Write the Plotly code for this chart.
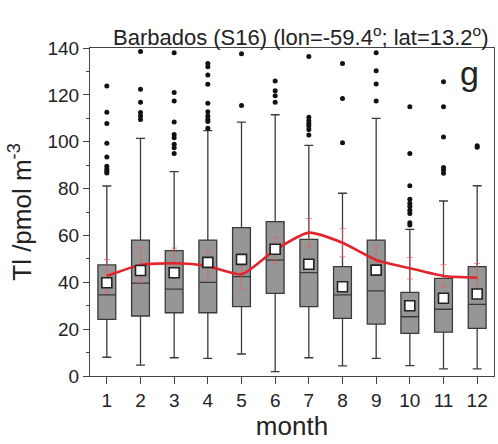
import plotly.graph_objects as go

months = list(range(1, 13))
month_labels = [str(m) for m in months]

q1 = [24.2, 25.6, 27.0, 27.0, 29.6, 35.3, 29.6, 24.6, 22.1, 18.2, 18.7, 20.3]
median = [34.6, 39.6, 37.1, 40.0, 42.4, 49.5, 44.1, 34.6, 36.3, 25.3, 28.5, 30.6]
q3 = [47.4, 58.0, 53.5, 58.0, 63.3, 65.9, 58.3, 46.7, 58.0, 35.7, 41.7, 46.7]
lower_whisker = [8.0, 4.6, 7.8, 7.5, 9.4, 1.9, 7.8, 4.3, 7.5, 4.4, 3.0, 3.0]
upper_whisker = [81.1, 101.4, 87.2, 104.7, 108.4, 111.5, 98.4, 78.0, 110.0, 62.6, 74.7, 81.2]
mean_val = [39.8, 45.0, 44.1, 48.5, 49.8, 54.1, 47.7, 38.1, 45.2, 30.0, 33.2, 35.0]

outliers = {
    1: [123.8, 112.6, 107.8, 99.3, 93.5, 89.5, 88.3, 87.4, 86.6],
    2: [138.5, 122.4, 116.8, 112.5, 111.0, 109.5],
    3: [138.0, 121.0, 117.4, 108.4, 103.1, 101.7, 98.9, 97.4, 95.0],
    4: [133.4, 132.0, 128.5, 124.5, 116.4, 112.8, 111.0, 109.6, 108.6, 105.7],
    5: [137.5, 115.5],
    6: [125.9, 121.8, 119.6, 116.8],
    7: [136.4, 110.4, 109.0, 107.8, 106.7, 105.2, 102.9],
    8: [133.4, 118.4, 99.6],
    9: [138.0, 130.3, 124.6, 117.4],
    10: [114.9, 95.0, 81.2, 75.4, 73.7, 72.3, 70.8, 69.4, 65.4, 64.4],
    11: [125.6, 114.9, 102.0, 89.0, 87.9, 86.5],
    12: [98.3, 97.6],
}

model_mean = [42.7, 47.4, 48.1, 46.9, 43.4, 53.8, 61.2, 56.9, 49.5, 46.0, 42.7, 42.0]
model_err = [7.0, 7.5, 6.5, 6.0, 6.0, 5.5, 6.0, 6.0, 5.7, 4.6, 4.8, 6.0]

y_ticks = [0, 20, 40, 60, 80, 100, 120, 140]

FONT = "Liberation Sans, Arial, sans-serif"

fig = go.Figure()

fig.add_trace(go.Box(
    x=months, q1=q1, median=median, q3=q3,
    lowerfence=lower_whisker, upperfence=upper_whisker,
    width=0.53, whiskerwidth=0.5,
    fillcolor="#969696", line=dict(color="#3a3a3a", width=1.3),
    boxpoints=False, showlegend=False, hoverinfo="skip",
))

fig.add_trace(go.Scatter(
    x=months, y=model_mean, mode="lines",
    line=dict(color="#e3242b", width=2.6, shape="spline", smoothing=0.6),
    error_y=dict(type="data", array=model_err, color="rgba(235,90,90,0.7)",
                 thickness=1, width=3),
    showlegend=False, hoverinfo="skip",
))

fig.add_trace(go.Scatter(
    x=months, y=mean_val, mode="markers",
    marker=dict(symbol="square", size=10, color="white",
                line=dict(color="#222", width=1.6)),
    showlegend=False, hoverinfo="skip",
))

ox, oy = [], []
for m in months:
    for v in outliers[m]:
        ox.append(m)
        oy.append(v)
fig.add_trace(go.Scatter(
    x=ox, y=oy, mode="markers",
    marker=dict(symbol="circle", size=5, color="#111"),
    showlegend=False, hoverinfo="skip", cliponaxis=False,
))

fig.update_layout(
    width=498, height=444,
    margin=dict(l=90, r=4, t=48, b=68),
    plot_bgcolor="white", paper_bgcolor="white",
    font=dict(family=FONT, color="#222"),
    xaxis=dict(
        range=[0.5, 12.5], tickmode="array", tickvals=months, ticktext=month_labels,
        ticks="outside", ticklen=7, tickcolor="#444", tickfont=dict(size=19),
        showline=True, linecolor="#444", linewidth=1.2, mirror=True,
        showgrid=False, zeroline=False,
        title=dict(text="month", font=dict(size=26), standoff=3),
    ),
    yaxis=dict(
        range=[0, 140], tickmode="array", tickvals=y_ticks,
        ticks="outside", ticklen=6, tickcolor="#444", tickfont=dict(size=19),
        minor=dict(tickvals=[10, 30, 50, 70, 90, 110, 130], ticks="outside",
                   ticklen=3, tickcolor="#444"),
        showline=True, linecolor="#444", linewidth=1.2, mirror=True,
        showgrid=False, zeroline=False,
        title=dict(text="Tl /pmol m<sup>-3</sup>", font=dict(size=26), standoff=8),
    ),
    yaxis2=dict(
        range=[0, 140], overlaying="y", side="right", tickmode="array",
        tickvals=[0, 10, 20, 30, 40, 50, 60, 70, 80, 90, 100, 110, 120, 130, 140],
        ticks="inside", ticklen=4, tickcolor="#444", showticklabels=False,
        showgrid=False, zeroline=False, showline=False,
    ),
    annotations=[
        dict(text="Barbados (S16) (lon=-59.4<sup>o</sup>; lat=13.2<sup>o</sup>)",
             xref="paper", yref="paper", x=0.52, y=1.0, xanchor="center",
             yanchor="bottom", yshift=-4, showarrow=False,
             font=dict(size=22, color="#222")),
        dict(text="g", xref="paper", yref="paper", x=0.94, y=0.925,
             xanchor="center", yanchor="middle", showarrow=False,
             font=dict(size=34, color="#222")),
    ],
)

fig.write_html("out.html")
